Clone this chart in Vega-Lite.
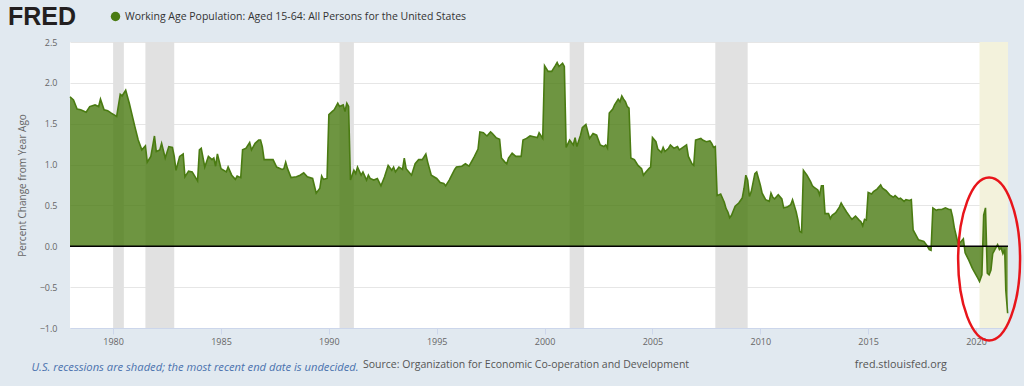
{
  "$schema": "https://vega.github.io/schema/vega-lite/v6.json",
  "width": 938,
  "height": 286,
  "autosize": "none",
  "padding": {"left": 70, "top": 42, "right": 16, "bottom": 58},
  "background": "#e1e9f0",
  "config": {"view": {"fill": "white", "stroke": null}, "font": "Open Sans"},
  "datasets": {
    "recessions": [
      {"start": "1980-01-01", "end": "1980-07-01"},
      {"start": "1981-07-01", "end": "1982-11-01"},
      {"start": "1990-07-01", "end": "1991-03-01"},
      {"start": "2001-03-01", "end": "2001-11-01"},
      {"start": "2007-12-01", "end": "2009-06-01"}
    ],
    "ongoing": [{"start": "2020-03-01", "end": "2021-06-26"}],
    "annotation": [{"date": "2020-08-10", "value": -0.155}],
    "series": [
      {"date": "1978-01-01", "value": 1.83}, {"date": "1978-03-01", "value": 1.79}, {"date": "1978-05-01", "value": 1.68}, {"date": "1978-07-01", "value": 1.67}, {"date": "1978-10-01", "value": 1.64}, {"date": "1978-12-01", "value": 1.71},
      {"date": "1979-03-01", "value": 1.73}, {"date": "1979-05-01", "value": 1.71}, {"date": "1979-06-01", "value": 1.80}, {"date": "1979-08-01", "value": 1.67}, {"date": "1979-10-01", "value": 1.66}, {"date": "1979-12-01", "value": 1.63},
      {"date": "1980-03-01", "value": 1.59}, {"date": "1980-05-01", "value": 1.86}, {"date": "1980-06-01", "value": 1.84}, {"date": "1980-08-01", "value": 1.91}, {"date": "1980-10-01", "value": 1.75},
      {"date": "1981-01-01", "value": 1.47}, {"date": "1981-03-01", "value": 1.30}, {"date": "1981-05-01", "value": 1.18}, {"date": "1981-07-01", "value": 1.23}, {"date": "1981-08-01", "value": 1.03}, {"date": "1981-10-01", "value": 1.10}, {"date": "1981-12-01", "value": 1.35},
      {"date": "1982-01-01", "value": 1.16}, {"date": "1982-03-01", "value": 1.18}, {"date": "1982-04-01", "value": 1.26}, {"date": "1982-06-01", "value": 1.08}, {"date": "1982-08-01", "value": 1.22}, {"date": "1982-10-01", "value": 1.21}, {"date": "1982-11-01", "value": 1.10}, {"date": "1982-12-01", "value": 0.93},
      {"date": "1983-02-01", "value": 1.10}, {"date": "1983-04-01", "value": 1.13}, {"date": "1983-05-01", "value": 0.85}, {"date": "1983-07-01", "value": 0.92}, {"date": "1983-09-01", "value": 0.91}, {"date": "1983-12-01", "value": 0.80},
      {"date": "1984-01-01", "value": 1.18}, {"date": "1984-02-01", "value": 1.20}, {"date": "1984-04-01", "value": 0.97}, {"date": "1984-06-01", "value": 1.10}, {"date": "1984-08-01", "value": 1.06}, {"date": "1984-09-01", "value": 1.08}, {"date": "1984-10-01", "value": 0.98}, {"date": "1984-11-01", "value": 1.13},
      {"date": "1985-01-01", "value": 0.95}, {"date": "1985-04-01", "value": 0.91}, {"date": "1985-05-01", "value": 0.97}, {"date": "1985-07-01", "value": 0.87}, {"date": "1985-09-01", "value": 0.82}, {"date": "1985-10-01", "value": 0.86}, {"date": "1985-12-01", "value": 0.84},
      {"date": "1986-01-01", "value": 1.18}, {"date": "1986-03-01", "value": 1.20}, {"date": "1986-05-01", "value": 1.27}, {"date": "1986-06-01", "value": 1.18}, {"date": "1986-08-01", "value": 1.26}, {"date": "1986-10-01", "value": 1.30}, {"date": "1986-11-01", "value": 1.30}, {"date": "1986-12-01", "value": 1.22},
      {"date": "1987-01-01", "value": 1.06}, {"date": "1987-04-01", "value": 1.06}, {"date": "1987-06-01", "value": 1.06}, {"date": "1987-08-01", "value": 0.97}, {"date": "1987-11-01", "value": 0.94}, {"date": "1987-12-01", "value": 0.95},
      {"date": "1988-01-01", "value": 1.03}, {"date": "1988-02-01", "value": 0.95}, {"date": "1988-04-01", "value": 0.84}, {"date": "1988-07-01", "value": 0.85}, {"date": "1988-09-01", "value": 0.87}, {"date": "1988-11-01", "value": 0.90},
      {"date": "1989-01-01", "value": 0.85}, {"date": "1989-04-01", "value": 0.83}, {"date": "1989-06-01", "value": 0.65}, {"date": "1989-08-01", "value": 0.71}, {"date": "1989-09-01", "value": 0.86}, {"date": "1989-10-01", "value": 0.82}, {"date": "1989-12-01", "value": 0.83},
      {"date": "1990-01-01", "value": 1.61}, {"date": "1990-03-01", "value": 1.65}, {"date": "1990-04-01", "value": 1.67}, {"date": "1990-06-01", "value": 1.75}, {"date": "1990-07-01", "value": 1.71}, {"date": "1990-09-01", "value": 1.73}, {"date": "1990-10-01", "value": 1.65}, {"date": "1990-11-01", "value": 1.75}, {"date": "1990-12-01", "value": 1.71},
      {"date": "1991-01-01", "value": 0.81}, {"date": "1991-03-01", "value": 0.93}, {"date": "1991-04-01", "value": 0.89}, {"date": "1991-05-01", "value": 0.97}, {"date": "1991-07-01", "value": 0.87}, {"date": "1991-08-01", "value": 0.91}, {"date": "1991-10-01", "value": 0.81}, {"date": "1991-11-01", "value": 0.87}, {"date": "1991-12-01", "value": 0.83},
      {"date": "1992-02-01", "value": 0.81}, {"date": "1992-04-01", "value": 0.83}, {"date": "1992-06-01", "value": 0.74}, {"date": "1992-08-01", "value": 0.85}, {"date": "1992-10-01", "value": 0.99}, {"date": "1992-12-01", "value": 0.93},
      {"date": "1993-01-01", "value": 0.97}, {"date": "1993-02-01", "value": 0.91}, {"date": "1993-04-01", "value": 0.97}, {"date": "1993-06-01", "value": 0.94}, {"date": "1993-07-01", "value": 1.08}, {"date": "1993-08-01", "value": 0.95}, {"date": "1993-11-01", "value": 0.87},
      {"date": "1994-01-01", "value": 1.01}, {"date": "1994-03-01", "value": 1.06}, {"date": "1994-05-01", "value": 1.06}, {"date": "1994-07-01", "value": 1.13}, {"date": "1994-08-01", "value": 1.03}, {"date": "1994-10-01", "value": 0.87},
      {"date": "1995-01-01", "value": 0.83}, {"date": "1995-03-01", "value": 0.78}, {"date": "1995-05-01", "value": 0.77}, {"date": "1995-06-01", "value": 0.74}, {"date": "1995-08-01", "value": 0.81}, {"date": "1995-11-01", "value": 0.94}, {"date": "1995-12-01", "value": 0.97},
      {"date": "1996-03-01", "value": 0.98}, {"date": "1996-05-01", "value": 1.01}, {"date": "1996-07-01", "value": 0.98}, {"date": "1996-09-01", "value": 1.06}, {"date": "1996-10-01", "value": 1.10}, {"date": "1996-12-01", "value": 1.19},
      {"date": "1997-01-01", "value": 1.40}, {"date": "1997-03-01", "value": 1.39}, {"date": "1997-05-01", "value": 1.35}, {"date": "1997-07-01", "value": 1.40}, {"date": "1997-08-01", "value": 1.38}, {"date": "1997-10-01", "value": 1.33}, {"date": "1997-12-01", "value": 1.31},
      {"date": "1998-01-01", "value": 1.08}, {"date": "1998-03-01", "value": 1.03}, {"date": "1998-04-01", "value": 1.01}, {"date": "1998-05-01", "value": 1.08}, {"date": "1998-07-01", "value": 1.14}, {"date": "1998-09-01", "value": 1.10}, {"date": "1998-12-01", "value": 1.10},
      {"date": "1999-01-01", "value": 1.30}, {"date": "1999-03-01", "value": 1.32}, {"date": "1999-05-01", "value": 1.35}, {"date": "1999-07-01", "value": 1.34}, {"date": "1999-09-01", "value": 1.33}, {"date": "1999-10-01", "value": 1.39}, {"date": "1999-12-01", "value": 1.32},
      {"date": "2000-01-01", "value": 2.21}, {"date": "2000-03-01", "value": 2.14}, {"date": "2000-05-01", "value": 2.14}, {"date": "2000-07-01", "value": 2.21}, {"date": "2000-08-01", "value": 2.25}, {"date": "2000-09-01", "value": 2.20}, {"date": "2000-11-01", "value": 2.24}, {"date": "2000-12-01", "value": 2.20},
      {"date": "2001-01-01", "value": 1.21}, {"date": "2001-03-01", "value": 1.30}, {"date": "2001-05-01", "value": 1.24}, {"date": "2001-06-01", "value": 1.33}, {"date": "2001-07-01", "value": 1.22}, {"date": "2001-09-01", "value": 1.36}, {"date": "2001-10-01", "value": 1.45}, {"date": "2001-12-01", "value": 1.49},
      {"date": "2002-02-01", "value": 1.32}, {"date": "2002-04-01", "value": 1.38}, {"date": "2002-06-01", "value": 1.36}, {"date": "2002-07-01", "value": 1.30}, {"date": "2002-08-01", "value": 1.24}, {"date": "2002-10-01", "value": 1.22}, {"date": "2002-11-01", "value": 1.24}, {"date": "2002-12-01", "value": 1.20},
      {"date": "2003-01-01", "value": 1.63}, {"date": "2003-03-01", "value": 1.68}, {"date": "2003-04-01", "value": 1.73}, {"date": "2003-06-01", "value": 1.80}, {"date": "2003-07-01", "value": 1.77}, {"date": "2003-08-01", "value": 1.84}, {"date": "2003-09-01", "value": 1.80}, {"date": "2003-10-01", "value": 1.77}, {"date": "2003-11-01", "value": 1.71}, {"date": "2003-12-01", "value": 1.69},
      {"date": "2004-01-01", "value": 1.08}, {"date": "2004-03-01", "value": 1.06}, {"date": "2004-05-01", "value": 0.99}, {"date": "2004-07-01", "value": 0.95}, {"date": "2004-08-01", "value": 0.87}, {"date": "2004-09-01", "value": 0.90}, {"date": "2004-11-01", "value": 0.95}, {"date": "2004-12-01", "value": 0.97},
      {"date": "2005-01-01", "value": 1.33}, {"date": "2005-03-01", "value": 1.28}, {"date": "2005-04-01", "value": 1.19}, {"date": "2005-06-01", "value": 1.15}, {"date": "2005-07-01", "value": 1.21}, {"date": "2005-08-01", "value": 1.16}, {"date": "2005-10-01", "value": 1.20}, {"date": "2005-11-01", "value": 1.24},
      {"date": "2006-01-01", "value": 1.20}, {"date": "2006-03-01", "value": 1.22}, {"date": "2006-04-01", "value": 1.18}, {"date": "2006-06-01", "value": 1.21}, {"date": "2006-08-01", "value": 1.24}, {"date": "2006-09-01", "value": 1.10}, {"date": "2006-11-01", "value": 1.01}, {"date": "2006-12-01", "value": 0.99},
      {"date": "2007-01-01", "value": 1.30}, {"date": "2007-04-01", "value": 1.32}, {"date": "2007-05-01", "value": 1.30}, {"date": "2007-07-01", "value": 1.28}, {"date": "2007-09-01", "value": 1.29}, {"date": "2007-10-01", "value": 1.26}, {"date": "2007-11-01", "value": 1.21}, {"date": "2007-12-01", "value": 1.22},
      {"date": "2008-01-01", "value": 0.62}, {"date": "2008-03-01", "value": 0.64}, {"date": "2008-05-01", "value": 0.54}, {"date": "2008-06-01", "value": 0.46}, {"date": "2008-07-01", "value": 0.42}, {"date": "2008-08-01", "value": 0.35}, {"date": "2008-09-01", "value": 0.38}, {"date": "2008-11-01", "value": 0.49},
      {"date": "2009-01-01", "value": 0.53}, {"date": "2009-03-01", "value": 0.59}, {"date": "2009-04-01", "value": 0.71}, {"date": "2009-05-01", "value": 0.87}, {"date": "2009-06-01", "value": 0.81}, {"date": "2009-07-01", "value": 0.61}, {"date": "2009-08-01", "value": 0.67}, {"date": "2009-10-01", "value": 0.89}, {"date": "2009-11-01", "value": 0.91},
      {"date": "2010-01-01", "value": 0.75}, {"date": "2010-02-01", "value": 0.65}, {"date": "2010-04-01", "value": 0.57}, {"date": "2010-06-01", "value": 0.55}, {"date": "2010-07-01", "value": 0.65}, {"date": "2010-08-01", "value": 0.60}, {"date": "2010-09-01", "value": 0.58}, {"date": "2010-11-01", "value": 0.63},
      {"date": "2011-01-01", "value": 0.58}, {"date": "2011-02-01", "value": 0.47}, {"date": "2011-04-01", "value": 0.48}, {"date": "2011-06-01", "value": 0.51}, {"date": "2011-07-01", "value": 0.57}, {"date": "2011-09-01", "value": 0.42}, {"date": "2011-10-01", "value": 0.32}, {"date": "2011-11-01", "value": 0.18}, {"date": "2011-12-01", "value": 0.17},
      {"date": "2012-01-01", "value": 0.93}, {"date": "2012-03-01", "value": 0.87}, {"date": "2012-05-01", "value": 0.79}, {"date": "2012-06-01", "value": 0.74}, {"date": "2012-07-01", "value": 0.72}, {"date": "2012-09-01", "value": 0.69}, {"date": "2012-10-01", "value": 0.63}, {"date": "2012-11-01", "value": 0.74}, {"date": "2012-12-01", "value": 0.74},
      {"date": "2013-01-01", "value": 0.40}, {"date": "2013-03-01", "value": 0.40}, {"date": "2013-04-01", "value": 0.34}, {"date": "2013-05-01", "value": 0.38}, {"date": "2013-07-01", "value": 0.41}, {"date": "2013-09-01", "value": 0.48}, {"date": "2013-10-01", "value": 0.53}, {"date": "2013-11-01", "value": 0.49},
      {"date": "2014-01-01", "value": 0.42}, {"date": "2014-03-01", "value": 0.36}, {"date": "2014-04-01", "value": 0.33}, {"date": "2014-06-01", "value": 0.37}, {"date": "2014-08-01", "value": 0.32}, {"date": "2014-09-01", "value": 0.30}, {"date": "2014-10-01", "value": 0.25}, {"date": "2014-11-01", "value": 0.33}, {"date": "2014-12-01", "value": 0.32},
      {"date": "2015-01-01", "value": 0.66}, {"date": "2015-03-01", "value": 0.64}, {"date": "2015-04-01", "value": 0.67}, {"date": "2015-06-01", "value": 0.70}, {"date": "2015-08-01", "value": 0.75}, {"date": "2015-09-01", "value": 0.71}, {"date": "2015-11-01", "value": 0.68},
      {"date": "2016-01-01", "value": 0.63}, {"date": "2016-03-01", "value": 0.60}, {"date": "2016-04-01", "value": 0.62}, {"date": "2016-06-01", "value": 0.58}, {"date": "2016-07-01", "value": 0.59}, {"date": "2016-09-01", "value": 0.55}, {"date": "2016-10-01", "value": 0.57}, {"date": "2016-12-01", "value": 0.56},
      {"date": "2017-01-01", "value": 0.57}, {"date": "2017-02-01", "value": 0.20}, {"date": "2017-04-01", "value": 0.12}, {"date": "2017-05-01", "value": 0.08}, {"date": "2017-08-01", "value": 0.06}, {"date": "2017-10-01", "value": 0.00}, {"date": "2017-11-01", "value": -0.04}, {"date": "2017-12-01", "value": -0.05},
      {"date": "2018-01-01", "value": 0.47}, {"date": "2018-03-01", "value": 0.44}, {"date": "2018-04-01", "value": 0.45}, {"date": "2018-06-01", "value": 0.45}, {"date": "2018-08-01", "value": 0.47}, {"date": "2018-10-01", "value": 0.45}, {"date": "2018-11-01", "value": 0.45}, {"date": "2018-12-01", "value": 0.36},
      {"date": "2019-01-01", "value": 0.22}, {"date": "2019-03-01", "value": 0.04}, {"date": "2019-04-01", "value": 0.04}, {"date": "2019-06-01", "value": 0.09}, {"date": "2019-07-01", "value": -0.08}, {"date": "2019-09-01", "value": -0.17}, {"date": "2019-11-01", "value": -0.27},
      {"date": "2020-01-01", "value": -0.35}, {"date": "2020-02-01", "value": -0.39}, {"date": "2020-03-01", "value": -0.43}, {"date": "2020-04-10", "value": -0.35}, {"date": "2020-05-10", "value": 0.38}, {"date": "2020-06-10", "value": 0.47}, {"date": "2020-07-10", "value": -0.33}, {"date": "2020-08-10", "value": -0.35}, {"date": "2020-09-10", "value": -0.29}, {"date": "2020-10-10", "value": -0.09}, {"date": "2020-12-01", "value": -0.02},
      {"date": "2021-01-01", "value": 0.02}, {"date": "2021-02-01", "value": -0.04}, {"date": "2021-03-01", "value": -0.02}, {"date": "2021-04-01", "value": -0.09}, {"date": "2021-05-01", "value": -0.04}, {"date": "2021-05-20", "value": -0.54}, {"date": "2021-06-20", "value": -0.82}
    ]
  },
  "layer": [
    {
      "data": {"name": "recessions"},
      "mark": {"type": "rect"},
      "encoding": {
        "x": {
          "field": "start", "type": "temporal",
          "scale": {"domain": ["1978-01-01", "2021-06-26"]},
          "axis": {
            "title": "U.S. recessions are shaded; the most recent end date is undecided.",
            "titleFontStyle": "italic", "titleColor": "#4a72ae", "titleFontWeight": "normal", "titleFontSize": 11.2,
            "titleAnchor": "start", "titleAlign": "left", "titleX": -39, "titleY": 39, "titleBaseline": "middle",
            "format": "%Y",
            "values": [{"year": 1980}, {"year": 1985}, {"year": 1990}, {"year": 1995}, {"year": 2000}, {"year": 2005}, {"year": 2010}, {"year": 2015}, {"year": 2020}],
            "labelColor": "#666", "labelFontSize": 9, "labelPadding": 3,
            "domainColor": "#ccd6eb", "tickColor": "#ccd6eb", "tickSize": 6, "grid": false
          }
        },
        "x2": {"field": "end"},
        "fill": {
          "datum": "fred.stlouisfed.org",
          "scale": {"range": ["#e1e1e1"]},
          "legend": {
            "orient": "none", "legendX": 293, "legendY": 318, "direction": "horizontal",
            "title": "Source: Organization for Economic Co-operation and Development",
            "titleOrient": "left", "titleFont": "Open Sans", "titleFontSize": 10.5, "titleFontWeight": "normal",
            "titleColor": "#555", "titlePadding": 154, "titleLimit": 0,
            "symbolOpacity": 0, "symbolSize": 0, "symbolStrokeWidth": 0,
            "labelColor": "#555", "labelFontSize": 10.8, "labelOffset": 0, "labelLimit": 0
          }
        }
      }
    },
    {
      "data": {"name": "ongoing"},
      "mark": {"type": "rect", "color": "#f3f2dc"},
      "encoding": {
        "x": {"field": "start", "type": "temporal"},
        "x2": {"field": "end"}
      }
    },
    {
      "data": {"name": "series"},
      "mark": {"type": "area", "fillOpacity": 0.8},
      "encoding": {
        "x": {"field": "date", "type": "temporal"},
        "y": {
          "field": "value", "type": "quantitative",
          "scale": {"domain": [-1, 2.5], "nice": false, "zero": false},
          "axis": {
            "title": "Percent Change from Year Ago",
            "values": [-1, -0.5, 0, 0.5, 1, 1.5, 2, 2.5], "format": ".1f",
            "domain": false, "ticks": false, "labelPadding": 13,
            "gridColor": "#e6e6e6", "labelColor": "#666", "labelFontSize": 9,
            "titleColor": "#666", "titleFontSize": 10, "titleFontWeight": "normal", "titlePadding": 12
          }
        },
        "y2": {"datum": 0},
        "color": {
          "datum": "Working Age Population: Aged 15-64: All Persons for the United States",
          "scale": {"range": ["#4a7b12"]},
          "legend": {
            "orient": "none", "legendX": -62, "legendY": -31, "direction": "horizontal",
            "title": "FRED", "titleOrient": "left", "titleFont": "Liberation Sans", "titleFontSize": 25,
            "titleFontWeight": "bold", "titleColor": "#231f20", "titlePadding": 33, "titleLimit": 0,
            "symbolType": "circle", "symbolSize": 90, "symbolOpacity": 1,
            "labelFont": "Open Sans", "labelFontSize": 10.5, "labelColor": "#333", "labelLimit": 0
          }
        }
      }
    },
    {
      "data": {"name": "series"},
      "mark": {"type": "line", "color": "#4a7b12", "strokeWidth": 1.6},
      "encoding": {
        "x": {"field": "date", "type": "temporal"},
        "y": {"field": "value", "type": "quantitative"}
      }
    },
    {
      "data": {"values": [{}]},
      "mark": {"type": "rule", "color": "#000000", "strokeWidth": 1.6},
      "encoding": {"y": {"datum": 0}}
    },
    {
      "data": {"name": "annotation"},
      "mark": {"type": "point", "shape": "M0,-1A0.38,1,0,1,1,0,1A0.38,1,0,1,1,0,-1Z", "size": 26569, "filled": false, "stroke": "#e8151b", "strokeWidth": 2.5, "opacity": 1},
      "encoding": {
        "x": {"field": "date", "type": "temporal"},
        "y": {"field": "value", "type": "quantitative"}
      }
    }
  ]
}
